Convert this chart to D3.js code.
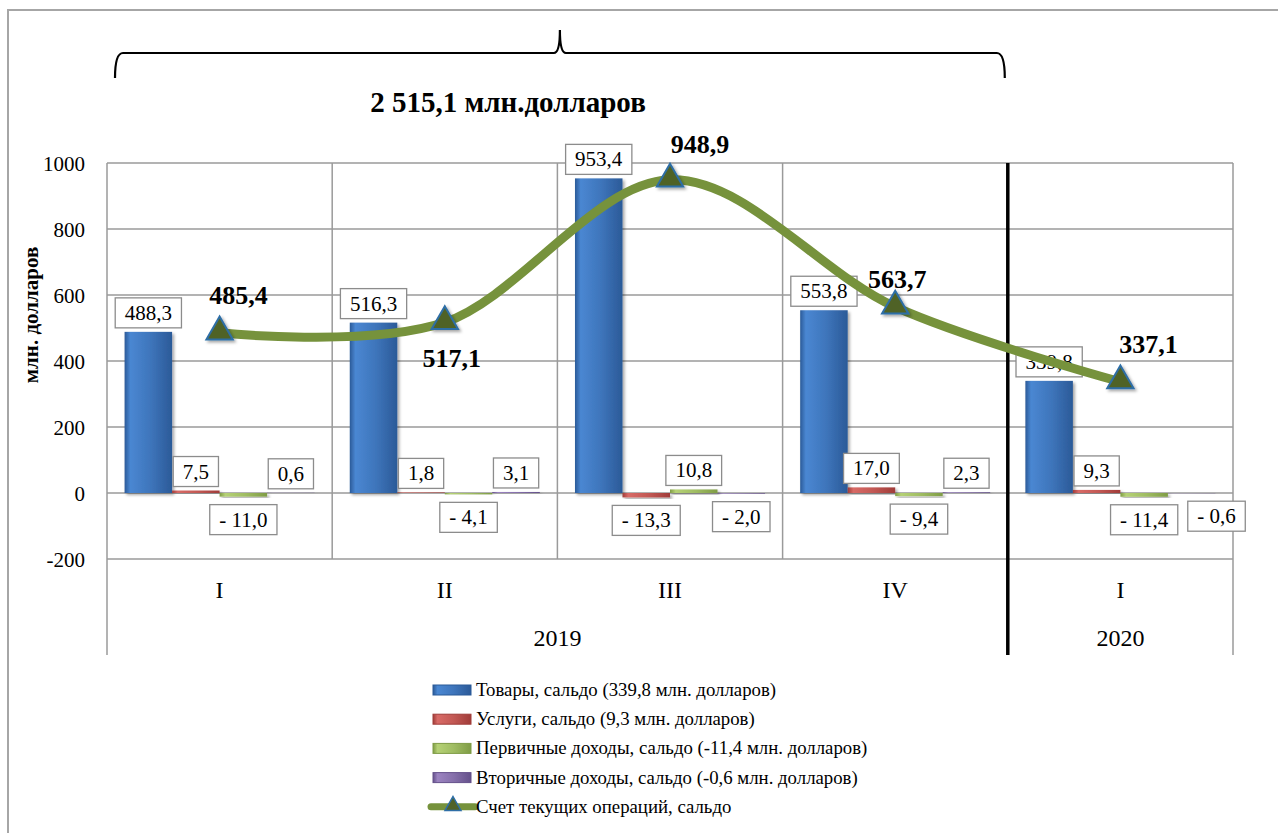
<!DOCTYPE html>
<html>
<head>
<meta charset="utf-8">
<script src="https://cdn.jsdelivr.net/npm/d3@7"></script>
<style>
  body { margin: 0; background: #fff; }
</style>
</head>
<body>
<div id="chart"></div>
<script>
// categories
var quarters = ["I", "II", "III", "IV", "I"];
var years = ["2019", "2019", "2019", "2019", "2020"];

// series values, mln USD
var goods = [488.3, 516.3, 953.4, 553.8, 339.8];
var services = [7.5, 1.8, -13.3, 17.0, 9.3];
var primaryIncome = [-11.0, -4.1, 10.8, -9.4, -11.4];
var secondaryIncome = [0.6, 3.1, -2.0, 2.3, -0.6];
var currentAccount = [485.4, 517.1, 948.9, 563.7, 337.1];

var yTicks = [-200, 0, 200, 400, 600, 800, 1000];
var seriesNames = [
  "Товары, сальдо (339,8 млн. долларов)",
  "Услуги, сальдо (9,3  млн. долларов)",
  "Первичные доходы, сальдо (-11,4 млн. долларов)",
  "Вторичные доходы, сальдо (-0,6 млн. долларов)",
  "Счет текущих  операций, сальдо"
];
var totalText = "2 515,1 млн.долларов";

// colours per bar series: [dark, light]
var barColors = [["#2b5a98", "#4a87d2"], ["#a03c39", "#d86a66"], ["#7f9c45", "#b5d175"], ["#64508a", "#9b83c0"]];
var barSeries = [goods, services, primaryIncome, secondaryIncome];

var FONT = "'Liberation Serif', 'Times New Roman', serif";
var W = 1278, H = 833;
var plot = {left: 107, right: 1233, top: 163, bottom: 559, axisBottom: 655};

var svg = d3.select("#chart").append("svg")
  .attr("width", W).attr("height", H)
  .style("display", "block");

var defs = svg.append("defs");
barColors.forEach(function(c, i) {
  var g = defs.append("linearGradient").attr("id", "bar" + i)
    .attr("x1", "0%").attr("x2", "100%").attr("y1", "0%").attr("y2", "0%");
  g.append("stop").attr("offset", "0%").attr("stop-color", c[0]);
  g.append("stop").attr("offset", "12%").attr("stop-color", c[1]);
  g.append("stop").attr("offset", "55%").attr("stop-color", d3.interpolateRgb(c[0], c[1])(0.6));
  g.append("stop").attr("offset", "100%").attr("stop-color", c[0]);
});
var sh = defs.append("filter").attr("id", "shadow").attr("x", "-20%").attr("y", "-20%").attr("width", "150%").attr("height", "150%");
sh.append("feDropShadow").attr("dx", 2).attr("dy", 2).attr("stdDeviation", 1.5).attr("flood-color", "#000").attr("flood-opacity", 0.35);

// outer frame
svg.append("rect")
  .attr("x", 8).attr("y", 10).attr("width", W + 20).attr("height", H + 20)
  .attr("fill", "none").attr("stroke", "#a6a6a6").attr("stroke-width", 2);

// scales
var keys = d3.range(quarters.length);
var x = d3.scaleBand().domain(keys).range([plot.left, plot.right]).padding(0);
var x1 = d3.scaleBand().domain(d3.range(4)).range([0, x.bandwidth()]).paddingInner(0).paddingOuter(0.37);
var y = d3.scaleLinear().domain([-200, 1000]).range([plot.bottom, plot.top]);

// horizontal gridlines
svg.append("g").selectAll("line").data(yTicks).enter().append("line")
  .attr("x1", plot.left).attr("x2", plot.right)
  .attr("y1", function(d) { return y(d); }).attr("y2", function(d) { return y(d); })
  .attr("stroke", "#9a9a9a").attr("stroke-width", 1.5);

// vertical category separators
svg.append("g").selectAll("line").data(keys.slice(1)).enter().append("line")
  .attr("x1", function(d) { return x(d); }).attr("x2", function(d) { return x(d); })
  .attr("y1", plot.top)
  .attr("y2", function(d) { return years[d] !== years[d - 1] ? plot.axisBottom : plot.bottom; })
  .attr("stroke", function(d) { return years[d] !== years[d - 1] ? "#000" : "#9a9a9a"; })
  .attr("stroke-width", function(d) { return years[d] !== years[d - 1] ? 3.5 : 1.5; });
[plot.left, plot.right].forEach(function(px) {
  svg.append("line").attr("x1", px).attr("x2", px).attr("y1", plot.top).attr("y2", plot.axisBottom)
    .attr("stroke", "#9a9a9a").attr("stroke-width", 1.5);
});

// y axis
var yAxis = svg.append("g")
  .attr("transform", "translate(" + (plot.left - 22) + ",0)")
  .call(d3.axisLeft(y).tickValues(yTicks).tickSize(0).tickFormat(function(d) { return String(d); }));
yAxis.select(".domain").remove();
yAxis.attr("font-family", null).attr("font-size", null);
yAxis.selectAll("text")
  .attr("x", 0).attr("dy", "0.35em")
  .style("font-size", "21px").attr("fill", "#000");

svg.append("text")
  .attr("transform", "translate(33," + 315 + ") rotate(-90)")
  .attr("text-anchor", "middle").attr("dominant-baseline", "middle")
  .style("font-size", "21px").style("font-weight", "bold")
  .text("млн. долларов");

// category axis
svg.append("g").selectAll("text").data(keys).enter().append("text")
  .attr("x", function(d) { return x(d) + x.bandwidth() / 2; })
  .attr("y", 598)
  .attr("text-anchor", "middle").style("font-size", "24px")
  .text(function(d) { return quarters[d]; });

var yearGroups = d3.groups(keys, function(d) { return years[d]; });
svg.append("g").selectAll("text").data(yearGroups).enter().append("text")
  .attr("x", function(g) {
    var a = g[1][0], b = g[1][g[1].length - 1];
    return (x(a) + x(b) + x.bandwidth()) / 2;
  })
  .attr("y", 646)
  .attr("text-anchor", "middle").style("font-size", "24px")
  .text(function(g) { return g[0]; });

// bars
var fmt = function(v) {
  var s = Math.abs(v).toFixed(1).replace(".", ",");
  return v < 0 ? "- " + s : s;
};
var barData = [];
barSeries.forEach(function(arr, s) {
  arr.forEach(function(v, i) { barData.push({s: s, i: i, v: v}); });
});

svg.append("g").selectAll("rect").data(barData).enter().append("rect")
  .attr("x", function(d) { return x(d.i) + x1(d.s); })
  .attr("width", x1.bandwidth())
  .attr("y", function(d) { return y(Math.max(0, d.v)); })
  .attr("height", function(d) { return Math.abs(y(d.v) - y(0)); })
  .attr("fill", function(d) { return "url(#bar" + d.s + ")"; })
  .attr("filter", "url(#shadow)");

// bar labels (boxed)
var labelG = svg.append("g");
var placed = [];
barData.forEach(function(d) {
  var cx = x(d.i) + x1(d.s) + x1.bandwidth() / 2;
  var t = labelG.append("text")
    .attr("text-anchor", "middle")
    .style("font-family", FONT).style("font-size", "21px")
    .text(fmt(d.v));
  var w = t.node().getComputedTextLength() + 19, h = 30;
  var top = d.v >= 0 ? y(d.v) - 4 - h : y(d.v) + 8;
  var left = cx - w / 2;
  // nudge to the right if it overlaps a box already placed on this row
  placed.forEach(function(p) {
    if (Math.abs(p.top - top) < h && left < p.left + p.w && left + w > p.left) left = p.left + p.w + 10;
  });
  placed.push({left: left, top: top, w: w});
  labelG.insert("rect", "text")
    .attr("x", left).attr("y", top).attr("width", w).attr("height", h)
    .attr("fill", "#fff").attr("stroke", "#8c8c8c").attr("stroke-width", 1.3);
  t.attr("x", left + w / 2).attr("y", top + h / 2 + 7);
});
// keep text above every box
labelG.selectAll("text").raise();

// current account line
var line = d3.line()
  .x(function(d, i) { return x(i) + x.bandwidth() / 2; })
  .y(function(d) { return y(d); })
  .curve(d3.curveCardinal.tension(0));
svg.append("path").datum(currentAccount)
  .attr("d", line)
  .attr("fill", "none").attr("stroke", "#76923c").attr("stroke-width", 9)
  .attr("stroke-linecap", "round");

var tri = d3.symbol().type(d3.symbolTriangle).size(300);
svg.append("g").selectAll("path").data(currentAccount).enter().append("path")
  .attr("d", tri)
  .attr("transform", function(d, i) { return "translate(" + (x(i) + x.bandwidth() / 2) + "," + (y(d) - 1) + ")"; })
  .attr("fill", "#4f6228").attr("stroke", "#2e6ea6").attr("stroke-width", 2)
  .attr("filter", "url(#shadow)");

// line value labels
var lineLabelOffset = [[19, -29], [7, 45], [30, -27], [2, -19], [28, -29]];
svg.append("g").selectAll("text").data(currentAccount).enter().append("text")
  .attr("x", function(d, i) { return x(i) + x.bandwidth() / 2 + lineLabelOffset[i][0]; })
  .attr("y", function(d, i) { return y(d) + lineLabelOffset[i][1]; })
  .attr("text-anchor", "middle")
  .style("font-size", "26px").style("font-weight", "bold")
  .text(function(d) { return fmt(d); });

// bracket over 2019 and total
var bx0 = x(0) + 8, bx1 = x(3) + x.bandwidth() - 3, bmid = (bx0 + bx1) / 2, by = 53;
svg.append("path")
  .attr("d", "M" + bx0 + ",78 Q" + bx0 + "," + by + " " + (bx0 + 8) + "," + by +
    " L" + (bmid - 6) + "," + by + " Q" + bmid + "," + by + " " + bmid + ",30" +
    " Q" + bmid + "," + by + " " + (bmid + 6) + "," + by +
    " L" + (bx1 - 8) + "," + by + " Q" + bx1 + "," + by + " " + bx1 + ",78")
  .attr("fill", "none").attr("stroke", "#000").attr("stroke-width", 2.2);
svg.append("text")
  .attr("x", 508).attr("y", 112).attr("text-anchor", "middle")
  .style("font-size", "29px").style("font-weight", "bold")
  .text(totalText);

// legend
var legend = svg.append("g").attr("transform", "translate(433,690)");
var rows = legend.selectAll("g").data(seriesNames).enter().append("g")
  .attr("transform", function(d, i) { return "translate(0," + (i * 29.2) + ")"; });
rows.filter(function(d, i) { return i < 4; }).append("rect")
  .attr("x", 0).attr("y", -5).attr("width", 38).attr("height", 10)
  .attr("fill", function(d, i) { return "url(#bar" + i + ")"; })
  .attr("stroke", function(d, i) { return barColors[i][0]; }).attr("stroke-width", 1);
var lastRow = rows.filter(function(d, i) { return i === 4; });
lastRow.append("line").attr("x1", -2).attr("x2", 42).attr("y1", 0).attr("y2", 0)
  .attr("stroke", "#76923c").attr("stroke-width", 7).attr("stroke-linecap", "round");
lastRow.append("path").attr("d", d3.symbol().type(d3.symbolTriangle).size(110))
  .attr("transform", "translate(20,-1)")
  .attr("fill", "#4f6228").attr("stroke", "#2e6ea6").attr("stroke-width", 1.5);
rows.append("text").attr("x", 43).attr("y", 6)
  .style("font-size", "18.8px")
  .text(function(d) { return d; });

// one serif family for every text
svg.selectAll("text").style("font-family", FONT).attr("fill", "#000");
</script>
</body>
</html>
